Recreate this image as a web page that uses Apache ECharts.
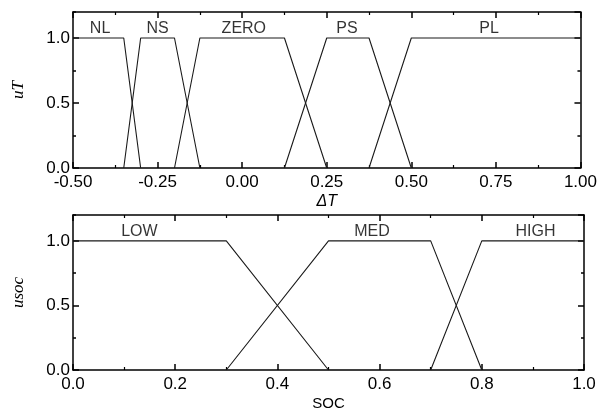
<!DOCTYPE html>
<html><head><meta charset="utf-8">
<script src="https://cdn.jsdelivr.net/npm/echarts@6/dist/echarts.min.js"></script>
<style>html,body{margin:0;padding:0;background:#fff}#c{width:600px;height:412px}</style>
</head><body><div id="c"></div>
<script>
// ---- Top chart: membership functions of ΔT ----
const nlX = [-0.5, -0.35, -0.3],  nlY = [1, 1, 0];
const nsX = [-0.35, -0.3, -0.2, -0.125], nsY = [0, 1, 1, 0];
const zeroX = [-0.2, -0.125, 0.125, 0.25], zeroY = [0, 1, 1, 0];
const psX = [0.125, 0.25, 0.375, 0.5], psY = [0, 1, 1, 0];
const plX = [0.375, 0.5, 1.0], plY = [0, 1, 1];
const topNames = ['NL', 'NS', 'ZERO', 'PS', 'PL'];
const topNameX = [-0.42, -0.25, 0.005, 0.31, 0.73];
const topNameY = [1.07, 1.07, 1.07, 1.07, 1.07];

// ---- Bottom chart: membership functions of SOC ----
const lowX = [0, 0.3, 0.5], lowY = [1, 1, 0];
const medX = [0.3, 0.5, 0.7, 0.8], medY = [0, 1, 1, 0];
const highX = [0.7, 0.8, 1.0], highY = [0, 1, 1];
const botNames = ['LOW', 'MED', 'HIGH'];
const botNameX = [0.13, 0.585, 0.905];
const botNameY = [1.07, 1.07, 1.07];

const zip = (xs, ys) => xs.map((x, i) => [x, ys[i]]);
const FONT = 'Liberation Sans';
const lineCol = '#1a1a1a';
const TICK = '#000';

function xAxis(gi, min, max, interval, pos, name) {
  const ax = {
    gridIndex: gi, type: 'value', min: min, max: max, interval: interval, position: pos,
    axisLine: { show: true, onZero: false, lineStyle: { color: '#000', width: 1.5 } },
    axisTick: { show: true, inside: true, length: 6, lineStyle: { color: TICK, width: 1.5 } },
    minorTick: { show: true, splitNumber: 2, length: 3, lineStyle: { color: TICK, width: 1.2 } },
    splitLine: { show: false },
    axisLabel: { show: false }
  };
  if (name) {
    ax.name = name; ax.nameLocation = 'middle'; ax.nameGap = 26;
    ax.nameTextStyle = name === 'ΔT'
      ? { fontFamily: FONT, fontStyle: 'italic', fontSize: 16, color: '#000' }
      : { fontFamily: FONT, fontSize: 15, color: '#000' };
    ax.axisLabel = { show: true, fontFamily: FONT, fontSize: 17, color: '#000', margin: 6,
      formatter: v => v.toFixed(interval < 0.25 ? 1 : 2) };
  }
  return ax;
}
function yAxis(gi, pos, interval, tickLen, name) {
  const ax = {
    gridIndex: gi, type: 'value', min: 0, max: 1.2, interval: interval, position: pos,
    axisLine: { show: interval === 0.5, onZero: false, lineStyle: { color: '#000', width: 1.5 } },
    axisTick: { show: true, inside: true, length: tickLen, lineStyle: { color: TICK, width: 1.5 } },
    splitLine: { show: false },
    axisLabel: { show: false }
  };
  if (name) {
    ax.name = name; ax.nameLocation = 'middle'; ax.nameGap = 46; ax.nameRotate = 90;
    ax.nameTextStyle = { fontFamily: 'Liberation Serif', fontStyle: 'italic', fontSize: 17, color: '#000' };
    ax.axisLabel = { show: true, fontFamily: FONT, fontSize: 17, color: '#000', margin: 3,
      showMaxLabel: false, formatter: v => v.toFixed(1) };
  }
  return ax;
}

function lineSeries(xi, yi, xs, ys) {
  return { type: 'line', xAxisIndex: xi, yAxisIndex: yi, data: zip(xs, ys),
    symbol: 'none', silent: true, animation: false, z: 1,
    lineStyle: { color: lineCol, width: 1.1 } };
}
function nameSeries(xi, yi, names, xs, ys) {
  return { type: 'scatter', xAxisIndex: xi, yAxisIndex: yi, symbolSize: 0, silent: true, animation: false,
    data: names.map((n, i) => ({ name: n, value: [xs[i], ys[i]] })),
    label: { show: true, position: 'inside', formatter: '{b}', fontFamily: FONT, fontSize: 16, color: '#000' } };
}

const chart = echarts.init(document.getElementById('c'));
chart.setOption({
  animation: false,
  backgroundColor: '#fff',
  grid: [
    { left: 73, right: 17, top: 12, height: 156 },
    { left: 73, right: 16, top: 215, height: 157 }
  ],
  xAxis: [
    xAxis(0, -0.5, 1.0, 0.25, 'bottom', 'ΔT'),
    xAxis(0, -0.5, 1.0, 0.25, 'top'),
    xAxis(1, 0, 1.0, 0.2, 'bottom', 'SOC'),
    xAxis(1, 0, 1.0, 0.2, 'top')
  ],
  yAxis: [
    yAxis(0, 'left', 0.5, 6, 'uT'),
    yAxis(0, 'left', 0.25, 3),
    yAxis(0, 'right', 0.5, 6),
    yAxis(0, 'right', 0.25, 3),
    yAxis(1, 'left', 0.5, 6, 'usoc'),
    yAxis(1, 'left', 0.25, 3),
    yAxis(1, 'right', 0.5, 6),
    yAxis(1, 'right', 0.25, 3)
  ],
  series: [
    lineSeries(0, 0, nlX, nlY),
    lineSeries(0, 0, nsX, nsY),
    lineSeries(0, 0, zeroX, zeroY),
    lineSeries(0, 0, psX, psY),
    lineSeries(0, 0, plX, plY),
    nameSeries(0, 0, topNames, topNameX, topNameY),
    lineSeries(2, 4, lowX, lowY),
    lineSeries(2, 4, medX, medY),
    lineSeries(2, 4, highX, highY),
    nameSeries(2, 4, botNames, botNameX, botNameY)
  ]
});
</script></body></html>
